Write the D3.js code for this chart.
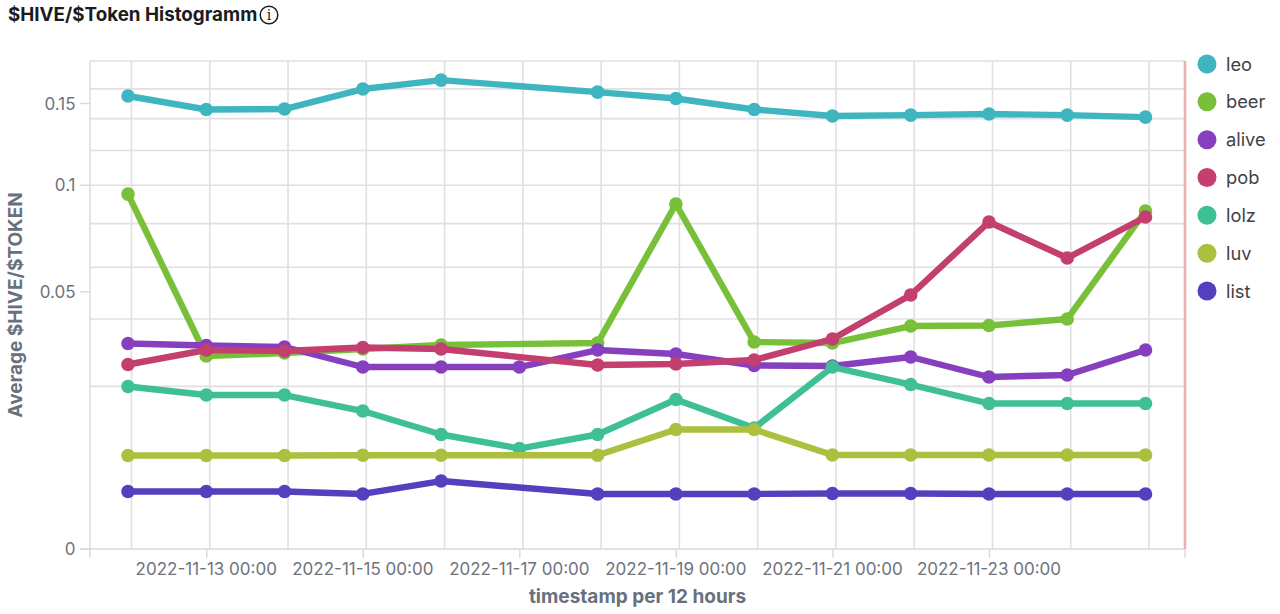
<!DOCTYPE html>
<html><head><meta charset="utf-8">
<script src="https://cdn.jsdelivr.net/npm/d3@7"></script>
<style>
html,body{margin:0;padding:0;background:#fff}
svg{display:block;font-family:Inter,"Noto Sans",sans-serif}
</style></head><body><svg id="c" width="1280" height="614"></svg>
<script>
const days = ["11-12","11-13","11-14","11-15","11-16","11-17","11-18","11-19","11-20","11-21","11-22","11-23","11-24","11-25"];
const leo   = [.1551,.1460,.1463,.1599,.1662,null,.1578,.1534,.1460,.1417,.1423,.1430,.1423,.1410];
const beer  = [.0952,.02815,.02903,.03023,.03145,null,.03207,.08995,.03238,.03207,.03758,.03775,.03998,.08634];
const alive = [.03192,.0313,.03084,.02503,.02503,.02503,.02993,.02874,.02545,.02531,.02786,.02236,.02288,.02993];
const pob   = [.02573,.02993,.02963,.03068,.03023,null,.02559,.02587,.027,.03333,.04876,.08081,.064,.0833];
const lolz  = [.01996,.01792,.01792,.01439,.00991,.00763,.00991,.01689,.01106,.02503,.02045,.016,.016,.016];
const luv   = [.00661,.00661,.00661,.00665,.00665,null,.00665,.01079,.01079,.00668,.00668,.00668,.00668,.00668];
const list  = [.0025,.0025,.0025,.00229,.00349,null,.00229,.00229,.00229,.00233,.00233,.00229,.00229,.00229];
const names = ["leo","beer","alive","pob","lolz","luv","list"];
const seriesValues = [leo,beer,alive,pob,lolz,luv,list];
const colors = ["#3fb5bf","#78c03a","#8640bf","#c23f6f","#3fbf96","#acbf3f","#5340bf"];
const yTicks = [0,.05,.1,.15];
const yGrid = [.02,.04,.06,.08,.1,.12,.14,.16,.18];
const xLabelled = ["11-13","11-15","11-17","11-19","11-21","11-23"];

const svg = d3.select("#c");
const dt = s => new Date("2022-"+s+"T00:00:00Z");
const x = d3.scaleUtc().domain([dt("11-12"),dt("11-25")]).range([128,1145.5]);
const y = d3.scaleSqrt().domain([0,.18]).range([549,61]);
const L=90,R=1185,T=61,B=549, GRIDOFF=3.5;
const gridC="#e0e0e4";

// grid
svg.append("g").selectAll("line").data(yGrid).join("line")
  .attr("x1",L).attr("x2",R).attr("y1",d=>y(d)).attr("y2",d=>y(d))
  .attr("stroke",gridC).attr("stroke-width",1.6);
svg.append("g").selectAll("line").data(days).join("line")
  .attr("x1",d=>x(dt(d))+GRIDOFF).attr("x2",d=>x(dt(d))+GRIDOFF).attr("y1",T).attr("y2",B)
  .attr("stroke",gridC).attr("stroke-width",1.6);

// axes
const axC="#d8d9dd";
svg.append("line").attr("x1",L).attr("x2",L).attr("y1",T).attr("y2",B+9).attr("stroke",axC).attr("stroke-width",1.4);
svg.append("line").attr("x1",L-9).attr("x2",R).attr("y1",B).attr("y2",B).attr("stroke",axC).attr("stroke-width",1.4);
svg.append("line").attr("x1",R).attr("x2",R).attr("y1",B).attr("y2",B+9).attr("stroke",axC).attr("stroke-width",1.4);
svg.append("line").attr("x1",R).attr("x2",R).attr("y1",T).attr("y2",B).attr("stroke","#e9b1b1").attr("stroke-width",2.6);

svg.append("g").selectAll("line").data(yTicks).join("line")
  .attr("x1",L-10).attr("x2",L).attr("y1",d=>y(d)).attr("y2",d=>y(d))
  .attr("stroke",axC).attr("stroke-width",1.4);
svg.append("g").selectAll("text").data(yTicks).join("text")
  .attr("x",L-14.5).attr("y",d=>y(d)+6).attr("text-anchor","end")
  .attr("font-size",17).attr("fill","#6f737c").text(d=>d);
svg.append("g").selectAll("line").data(xLabelled).join("line")
  .attr("x1",d=>x(dt(d))+.5).attr("x2",d=>x(dt(d))+.5).attr("y1",B).attr("y2",B+9)
  .attr("stroke",axC).attr("stroke-width",1.4);
svg.append("g").selectAll("text").data(xLabelled).join("text")
  .attr("x",d=>x(dt(d))).attr("y",575).attr("text-anchor","middle")
  .attr("font-size",17).attr("fill","#6f737c").text(d=>"2022-"+d+" 00:00");

// series
const line = d3.line().x(d=>x(dt(d.day))).y(d=>y(d.v));
names.forEach((n,i)=>{
  const pts = days.map((day,j)=>({day,v:seriesValues[i][j]})).filter(d=>d.v!==null);
  const g = svg.append("g");
  g.append("path").datum(pts).attr("d",line).attr("fill","none")
    .attr("stroke",colors[i]).attr("stroke-width",6.4).attr("stroke-linejoin","round");
  g.selectAll("circle").data(pts).join("circle")
    .attr("cx",d=>x(dt(d.day))).attr("cy",d=>y(d.v)).attr("r",6.8).attr("fill",colors[i]);
});

// legend
const leg = d3.scalePoint().domain(names).range([64,291]);
svg.append("g").selectAll("circle").data(names).join("circle")
  .attr("cx",1207).attr("cy",d=>leg(d)).attr("r",9.5).attr("fill",(d,i)=>colors[i]);
svg.append("g").selectAll("text").data(names).join("text")
  .attr("x",1226).attr("y",d=>leg(d)+6.5).attr("font-size",18.3).attr("fill","#3f424b").text(d=>d);

// titles
svg.append("text").attr("x",8).attr("y",21).attr("font-size",18.8).attr("font-weight",700).attr("fill","#1a1c21").text("$HIVE/$Token Histogramm");
const info = svg.append("g").attr("transform","translate(269,15)");
info.append("circle").attr("r",8.8).attr("fill","none").attr("stroke","#1a1c21").attr("stroke-width",1.5);
info.append("text").attr("text-anchor","middle").attr("y",5).attr("font-size",14).attr("font-weight",400).attr("font-family","'DejaVu Serif'").attr("fill","#1a1c21").text("i");
svg.append("text").attr("transform","translate(22,305) rotate(-90)").attr("text-anchor","middle")
  .attr("font-size",19).attr("font-weight",700).attr("fill","#69707d").text("Average $HIVE/$TOKEN");
svg.append("text").attr("x",637.5).attr("y",603).attr("text-anchor","middle")
  .attr("font-size",19).attr("font-weight",700).attr("fill","#69707d").text("timestamp per 12 hours");
</script></body></html>
